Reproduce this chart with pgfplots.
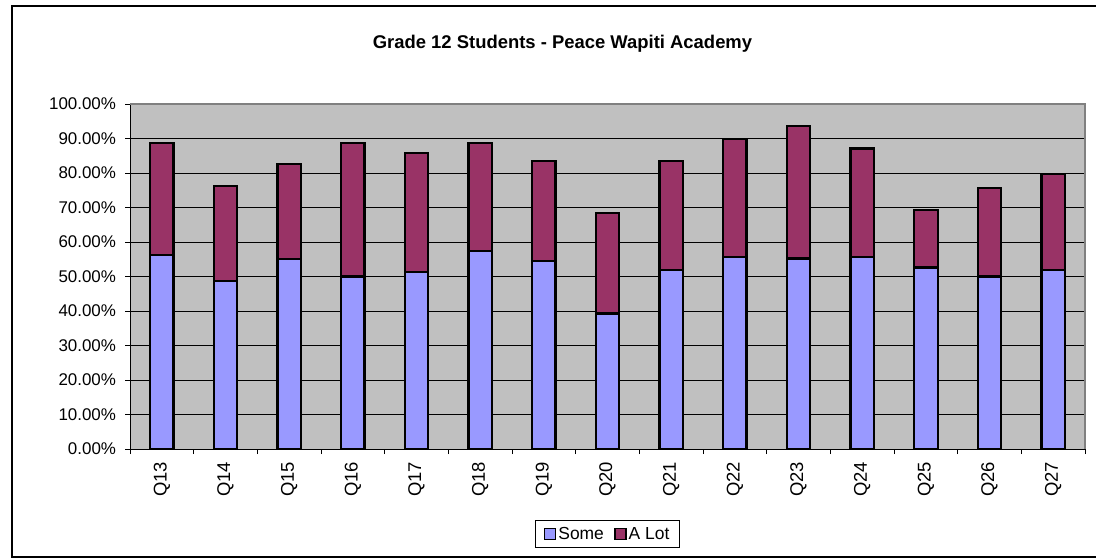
\documentclass[border=0pt]{standalone}
\usepackage{fontspec}
\setmainfont{Liberation Sans}
\usepackage{pgfplots}
\pgfplotsset{compat=1.18}
\definecolor{some}{HTML}{9999FF}
\definecolor{alot}{HTML}{993366}
\definecolor{plotbg}{HTML}{C0C0C0}
\definecolor{borderg}{HTML}{808080}
\pgfplotsset{
  mylegend/.style={legend image code/.code={\draw[##1,draw=black,line width=1.8bp] (0bp,-5.5bp) rectangle (11bp,5.5bp);}}
}
\begin{document}
\begin{tikzpicture}[x=1bp,y=1bp]
\useasboundingbox (0,0) rectangle (1096,-559);
\draw[line width=1.2bp] (12,-6) rectangle (1098,-557);
\node[anchor=base, font=\bfseries\fontsize{18.5}{22}\selectfont, inner sep=0pt] at (562.5,-48.5) {Grade 12 Students - Peace Wapiti Academy};
\begin{axis}[
  at={(130bp,-449bp)}, anchor=south west,
  scale only axis, width=955bp, height=345bp,
  ybar stacked, bar width=23.5bp,
  xmin=-0.5, xmax=14.5, ymin=0, ymax=100,
  clip=false,
  axis line style={draw=none},
  axis background/.style={fill=plotbg},
  ytick={0,10,...,100},
  yticklabel={\pgfmathprintnumber[fixed,fixed zerofill,precision=2]{\tick}\%},
  /pgf/number format/assume math mode=true,
  ymajorgrids, grid style={black, line width=0.8bp},
  xtick={0,...,14},
  xticklabels={Q13,Q14,Q15,Q16,Q17,Q18,Q19,Q20,Q21,Q22,Q23,Q24,Q25,Q26,Q27},
  minor xtick={-0.5,0.5,...,14.5},
  x tick label style={yshift=-4.5bp, rotate=90, anchor=east, font=\fontsize{18.5}{22}\selectfont},
  y tick label style={xshift=-5.5bp, font=\fontsize{17}{20}\selectfont},
  tick align=outside, major tick length=5bp, minor tick length=5bp,
  xtick pos=bottom, ytick pos=left,
  every major x tick/.style={draw=none},
  every minor x tick/.style={draw=black, line width=0.8bp},
  every major y tick/.style={draw=black, line width=0.8bp},
  legend style={at={(0.5,-0.2464)}, anchor=center, draw=black, line width=0.8bp,
    font=\fontsize{17.5}{21}\selectfont, inner xsep=8bp, inner ysep=5bp,
    legend columns=2, /tikz/every even column/.append style={column sep=8bp},
    /tikz/every odd column/.append style={column sep=0bp}},
  legend cell align=left,
]
\addplot[fill=some, draw=black, line width=2.2bp, mylegend] coordinates {
(0,56.3) (1,48.8) (2,55.0) (3,50.0) (4,51.3) (5,57.5) (6,54.4) (7,39.3)
(8,51.9) (9,55.7) (10,55.2) (11,55.7) (12,52.6) (13,50.0) (14,51.9)};
\addlegendentry{Some}
\addplot[fill=alot, draw=black, line width=2.2bp, mylegend] coordinates {
(0,32.5) (1,27.4) (2,27.5) (3,38.8) (4,34.6) (5,31.3) (6,29.1) (7,29.0)
(8,31.6) (9,34.1) (10,38.4) (11,31.4) (12,16.6) (13,25.6) (14,27.7)};
\addlegendentry{A Lot}
\draw[borderg, line width=2bp] (rel axis cs:0,1) -- (rel axis cs:1,1) -- (rel axis cs:1,0);
\draw[black, line width=1bp] (rel axis cs:0,1) -- (rel axis cs:0,0) -- (rel axis cs:1,0);
\end{axis}
\end{tikzpicture}
\end{document}
